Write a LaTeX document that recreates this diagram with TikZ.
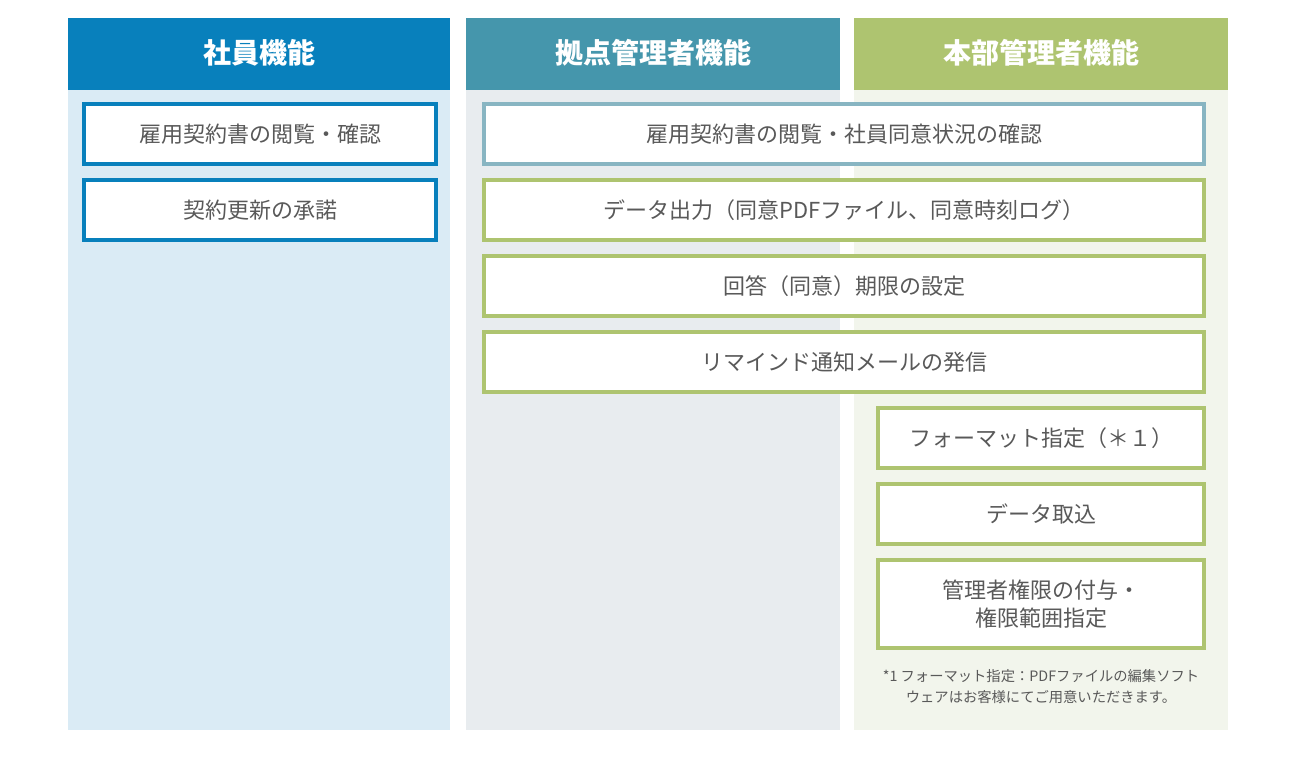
\documentclass[tikz,border=0pt]{standalone}
\usepackage{fontspec}
\setmainfont{Noto Sans CJK JP}
\usepackage{xcolor}
\usetikzlibrary{positioning, calc}

\definecolor{staffblue}{HTML}{0880BC}
\definecolor{staffbg}{HTML}{DAEBF5}
\definecolor{siteteal}{HTML}{4596AC}
\definecolor{sitebg}{HTML}{E8ECEF}
\definecolor{siteline}{HTML}{88B5C2}
\definecolor{hqgreen}{HTML}{AEC470}
\definecolor{hqbg}{HTML}{F2F5EC}
\definecolor{textgray}{HTML}{595959}

\begin{document}
\begin{tikzpicture}[x=1pt, y=-1pt,
        header/.style={text=white, font=\fontsize{28}{32}\selectfont\bfseries},
        func/.style={draw, line width=4pt, fill=white, text=textgray,
            minimum height=60pt, inner sep=0pt, align=center,
            font=\fontsize{22}{28}\selectfont},
        note/.style={text=textgray, align=center, font=\fontsize{14.3}{21}\selectfont}]
    \useasboundingbox (0,0) rectangle (1300,756);

    % columns
    \fill[staffbg] (68,90) rectangle (450,730);
    \fill[sitebg] (466,90) rectangle (840,730);
    \fill[hqbg] (854,90) rectangle (1228,730);
    \fill[staffblue] (68,18) rectangle (450,90);
    \fill[siteteal] (466,18) rectangle (840,90);
    \fill[hqgreen] (854,18) rectangle (1228,90);

    \node[header] (staff) at (259,53) {社員機能};
    \node[header] (site) at (653,53) {拠点管理者機能};
    \node[header] (hq) at (1041,53) {本部管理者機能};

    % staff
    \node[func, draw=staffblue, minimum width=352pt] (view) at (260,134) {雇用契約書の閲覧・確認};
    \node[func, draw=staffblue, minimum width=352pt] (renew) at (260,210) {契約更新の承諾};

    % site + hq
    \node[func, draw=siteline, minimum width=720pt] (status) at (844,134) {雇用契約書の閲覧・社員同意状況の確認};
    \node[func, draw=hqgreen, minimum width=720pt] (export) at (844,210) {データ出力（同意PDFファイル、同意時刻ログ）};
    \node[func, draw=hqgreen, minimum width=720pt] (deadline) at (844,286) {回答（同意）期限の設定};
    \node[func, draw=hqgreen, minimum width=720pt] (remind) at (844,362) {リマインド通知メールの発信};

    % hq only
    \node[func, draw=hqgreen, minimum width=326pt] (format) at (1041,438) {フォーマット指定（＊１）};
    \node[func, draw=hqgreen, minimum width=326pt] (import) at (1041,514) {データ取込};
    \node[func, draw=hqgreen, minimum width=326pt, minimum height=88pt] (grant) at (1041,604) {管理者権限の付与・\\権限範囲指定};

    \node[note] (footnote) at (1041,687) {*1 フォーマット指定：PDFファイルの編集ソフト\\ウェアはお客様にてご用意いただきます。};
\end{tikzpicture}
\end{document}
